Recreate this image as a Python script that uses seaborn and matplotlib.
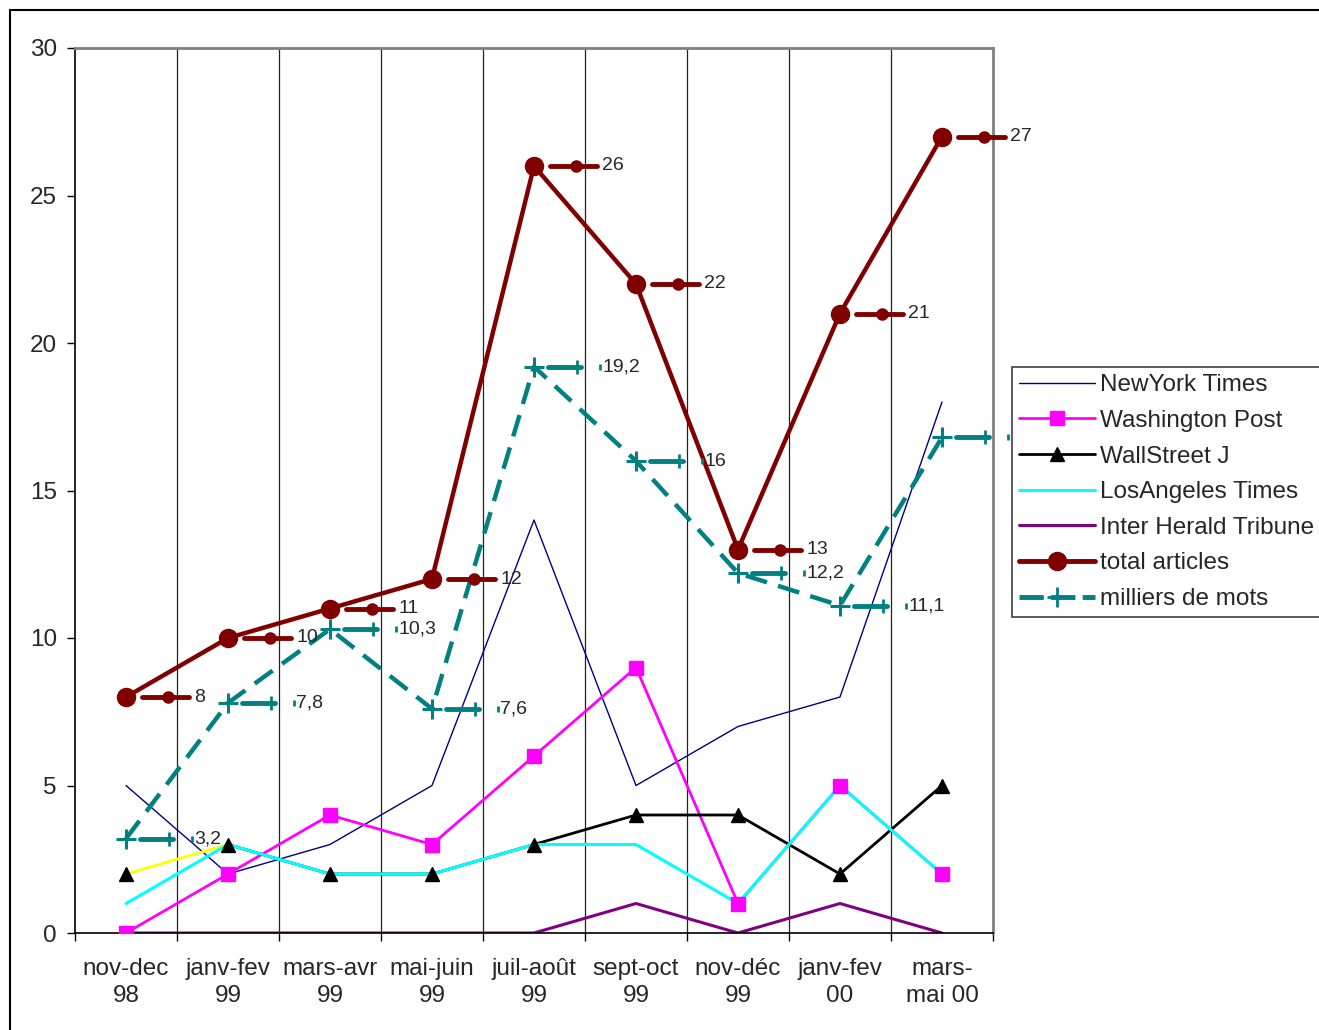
import numpy as np
import pandas as pd
import matplotlib.pyplot as plt
import seaborn as sns
from matplotlib.lines import Line2D
from matplotlib.patches import Rectangle

# periods (x axis)
periods = ["nov-dec\n98", "janv-fev\n99", "mars-avr\n99", "mai-juin\n99", "juil-août\n99",
           "sept-oct\n99", "nov-déc\n99", "janv-fev\n00", "mars-\nmai 00"]

# series values
nyt = [5, 2, 3, 5, 14, 5, 7, 8, 18]
wapo = [0, 2, 4, 3, 6, 9, 1, 5, 2]
wsj = [2, 3, 2, 2, 3, 4, 4, 2, 5]
lat = [1, 3, 2, 2, 3, 3, 1, 5, 2]
iht = [0, 0, 0, 0, 0, 1, 0, 1, 0]
total = [8, 10, 11, 12, 26, 22, 13, 21, 27]
mots = [3.2, 7.8, 10.3, 7.6, 19.2, 16, 12.2, 11.1, 16.8]

x = np.arange(len(periods))

sns.set_style("white")
plt.rcParams['font.family'] = ['Liberation Sans', 'DejaVu Sans']

fig = plt.figure(figsize=(13.19, 10.30), dpi=100)
ax = fig.add_axes([75 / 1319, 97 / 1030, 918 / 1319, 885 / 1030])

C_NYT, C_WP, C_WSJ, C_LA, C_IHT = "#000080", "#FF00FF", "#000000", "#00FFFF", "#800080"
C_TOT, C_MOT = "#800000", "#008080"

# lines (drawn first, markers on top like Excel)
sns.lineplot(x=x, y=nyt, color=C_NYT, lw=1, ax=ax, zorder=2)
sns.lineplot(x=x, y=wapo, color=C_WP, lw=2, ax=ax, zorder=2)
sns.lineplot(x=x[:2], y=wsj[:2], color="#FFFF00", lw=2, ax=ax, zorder=2)
sns.lineplot(x=x[1:], y=wsj[1:], color=C_WSJ, lw=2, ax=ax, zorder=2)
sns.lineplot(x=x, y=lat, color=C_LA, lw=2.2, ax=ax, zorder=2)
sns.lineplot(x=x, y=iht, color=C_IHT, lw=2.2, ax=ax, zorder=2)
sns.lineplot(x=x, y=total, color=C_TOT, lw=3.2, ax=ax, zorder=3)
ax.plot(x, mots, color=C_MOT, lw=3.2, ls=(0, (5, 2.6)), zorder=3)

# markers
ax.plot(x, wapo, ls="none", marker="s", ms=10, color=C_WP, zorder=6)
ax.plot(x, wsj, ls="none", marker="^", ms=10, color=C_WSJ, zorder=6)
ax.plot(x, total, ls="none", marker="o", ms=13, color=C_TOT, zorder=6)
ax.plot(x, mots, ls="none", marker="+", ms=15, mew=2.2, color=C_MOT, zorder=6)


def fr(v):
    return f"{v:g}".replace(".", ",")


# data labels with legend keys
for xi, v in zip(x, total):
    ax.plot([xi + 0.16, xi + 0.62], [v, v], color=C_TOT, lw=3.5, zorder=4, clip_on=False)
    ax.plot(xi + 0.41, v, marker="o", ms=8, color=C_TOT, zorder=4, clip_on=False)
    ax.text(xi + 0.67, v, fr(v), va="center", ha="left", fontsize=14, zorder=4, clip_on=False)

for xi, v in zip(x, mots):
    ax.plot([xi + 0.14, xi + 0.46], [v, v], color=C_MOT, lw=3.5, zorder=4, clip_on=False)
    ax.plot(xi + 0.42, v, marker="|", ms=10, mew=2, color=C_MOT, zorder=4, clip_on=False)
    ax.plot(xi + 0.645, v, marker="|", ms=5, mew=2, color=C_MOT, zorder=4, clip_on=False)
    ax.text(xi + 0.67, v, fr(v), va="center", ha="left", fontsize=14, zorder=4, clip_on=False)

# axes
ax.set_xlim(-0.5, len(periods) - 0.5)
ax.set_ylim(0, 30)
ax.set_yticks(range(0, 31, 5))
ax.set_xticks(x)
ax.set_xticklabels(periods, fontsize=17.5, linespacing=1.27)
ax.set_xticks(np.arange(-0.5, len(periods)), minor=True)
ax.tick_params(axis="x", which="major", length=0, pad=18)
ax.tick_params(axis="x", which="minor", length=6, width=1, color="black", direction="out", bottom=True)
ax.tick_params(axis="y", length=6, width=1, color="black", direction="out", left=True, labelsize=17.5, pad=7)
for b in np.arange(0.5, len(periods) - 1):
    ax.axvline(b, color="#222222", lw=0.9, zorder=1)
ax.spines["left"].set_color("black")
ax.spines["bottom"].set_color("black")
ax.spines["left"].set_linewidth(1.2)
ax.spines["bottom"].set_linewidth(1.2)
ax.spines["top"].set_color("#808080")
ax.spines["right"].set_color("#808080")
ax.spines["top"].set_linewidth(2)
ax.spines["right"].set_linewidth(2)
ax.set_xlabel("")
ax.set_ylabel("")

# legend
handles = [
    Line2D([], [], color=C_NYT, lw=1),
    Line2D([], [], color=C_WP, lw=2, marker="s", ms=10),
    Line2D([], [], color=C_WSJ, lw=2, marker="^", ms=10),
    Line2D([], [], color=C_LA, lw=2.2),
    Line2D([], [], color=C_IHT, lw=2.2),
    Line2D([], [], color=C_TOT, lw=3.5, marker="o", ms=13),
    Line2D([], [], color=C_MOT, lw=3.5, ls=(0, (5, 1.5)), marker="+", ms=15, mew=2),
]
labels = ["NewYork Times", "Washington Post", "WallStreet J", "LosAngeles Times",
          "Inter Herald Tribune", "total articles", "milliers de mots"]
leg = fig.legend(handles, labels, loc="upper left", bbox_to_anchor=(1012 / 1319, 1 - 367 / 1030),
                 fontsize=17.5, frameon=True, fancybox=False, framealpha=1, edgecolor="#404040",
                 handlelength=3.1, handletextpad=0.2, labelspacing=0.56, borderpad=0.3,
                 borderaxespad=0)
leg.get_frame().set_linewidth(1.2)

# outer chart border
fig.patches.append(Rectangle((10 / 1319, -0.1), 1.2, 1020 / 1030 + 0.1, transform=fig.transFigure,
                             fill=False, lw=1.5, ec="black"))

fig.savefig("out.png", dpi=100)
